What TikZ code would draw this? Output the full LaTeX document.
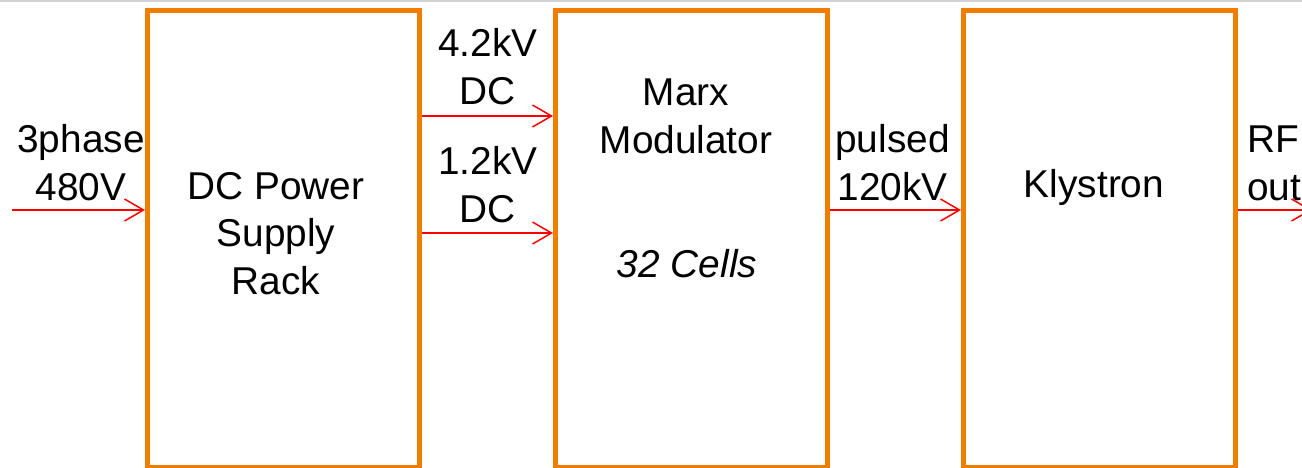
\documentclass[tikz,border=0pt]{standalone}
\usepackage{fontspec}
\setmainfont{Liberation Sans}
\usetikzlibrary{arrows.meta}
\definecolor{boxorange}{RGB}{240,125,0}
\definecolor{arrowred}{RGB}{255,0,0}
\definecolor{edgegray}{RGB}{210,210,210}
\begin{document}
\begin{tikzpicture}[x=1pt,y=-1pt,
  blockbox/.style={draw=boxorange,line width=5pt,rectangle,inner sep=0pt,
    minimum width=272pt,minimum height=457pt},
  lbl/.style={font=\fontsize{38.8}{47.5}\selectfont,align=center,inner sep=0pt,anchor=base},
  feed/.style={draw=arrowred,line width=1.5pt,-{Straight Barb[length=19pt,width=22pt,line width=1.5pt]}}]
\useasboundingbox (0,0) rectangle (1302,467);
\draw[edgegray,line width=1.5pt] (0,0.75) -- (1302,0.75);
% blocks
\node[blockbox] (dcps) at (283.5,239) {};
\node[blockbox] (marx) at (691.5,239) {};
\node[blockbox] (kly) at (1099.5,239) {};
% block texts (base anchor = baseline of last line)
\node[lbl] (dcpstext) at (276,294) {DC Power\\Supply\\Rack};
\node[lbl] (marxtext) at (686,153) {Marx\\Modulator};
\node[lbl,font=\fontsize{38.8}{47.5}\selectfont\itshape] (cells) at (687,277) {32 Cells};
\node[lbl] (klytext) at (1094,197) {Klystron};
% connector labels
\node[lbl] (inlbl) at (81,200) {3phase\\480V};
\node[lbl] (hvlbl) at (488,104) {4.2kV\\DC};
\node[lbl] (lvlbl) at (488,222) {1.2kV\\DC};
\node[lbl] (pulselbl) at (892.5,200) {pulsed\\120kV};
\node[lbl,anchor=base west,align=left] (rflbl) at (1247,200) {RF\\out};
% connectors
\coordinate (src) at (12,210);
\coordinate (sink) at (1312,210);
\draw[feed] (src) -- (src -| dcps.west);
\draw[feed] (dcps.east |- 0,116) -- (marx.west |- 0,116);
\draw[feed] (dcps.east |- 0,233) -- (marx.west |- 0,233);
\draw[feed] (marx.east |- 0,210) -- (kly.west |- 0,210);
\draw[feed] (kly.east |- sink) -- (sink);
\end{tikzpicture}
\end{document}
